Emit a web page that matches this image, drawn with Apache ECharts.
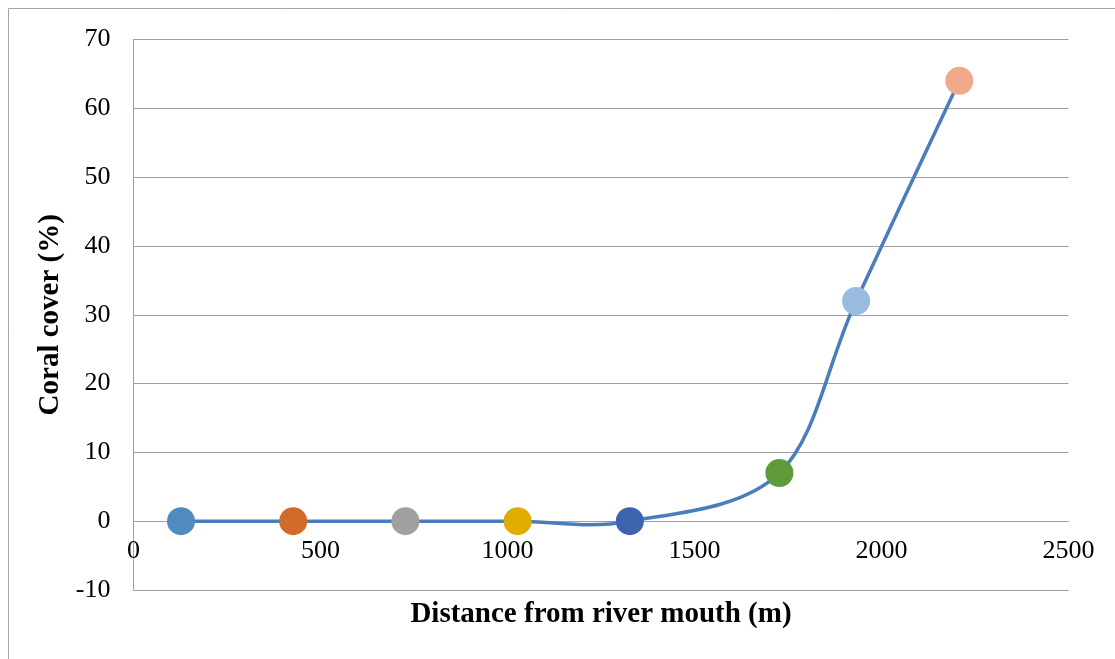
<!DOCTYPE html>
<html>
<head>
<meta charset="utf-8">
<script src="https://cdn.jsdelivr.net/npm/echarts@6/dist/echarts.min.js"></script>
<style>html,body{margin:0;padding:0;background:#fff}#c{width:1115px;height:659px}</style>
</head>
<body>
<div id="c"></div>
<script>
const distances = [127, 427, 727, 1027, 1327, 1727, 1932, 2208];
const coralCover = [0, 0, 0, 0, 0, 7, 32, 64];
const pointColors = ['#4F8BBF', '#D26B2A', '#A0A0A0', '#E2AB00', '#3E64AE', '#5F9A3B', '#9ABBE0', '#F2A98A'];
const xTicks = [0, 500, 1000, 1500, 2000, 2500];
const yTicks = [-10, 0, 10, 20, 30, 40, 50, 60, 70];
const xTitle = 'Distance from river mouth (m)';
const yTitle = 'Coral cover (%)';

const font = '"Liberation Serif", "Times New Roman", serif';
const chart = echarts.init(document.getElementById('c'), null, {renderer: 'canvas'});
const pairs = distances.map((d, i) => [d, coralCover[i]]);

// Excel-like smoothed curve (Catmull-Rom converted to Bezier) through the data, via the axes' coord()
function renderCurve(params, api) {
  if (params.dataIndex !== 0) return;
  const p = pairs.map(v => api.coord(v));
  const n = p.length;
  let d = 'M' + p[0][0] + ' ' + p[0][1];
  for (let i = 0; i < n - 1; i++) {
    const p0 = p[Math.max(i - 1, 0)], p1 = p[i], p2 = p[i + 1], p3 = p[Math.min(i + 2, n - 1)];
    const c1x = p1[0] + (p2[0] - p0[0]) / 6, c1y = p1[1] + (p2[1] - p0[1]) / 6;
    const c2x = p2[0] - (p3[0] - p1[0]) / 6, c2y = p2[1] - (p3[1] - p1[1]) / 6;
    d += ' C' + c1x + ' ' + c1y + ' ' + c2x + ' ' + c2y + ' ' + p2[0] + ' ' + p2[1];
  }
  return {type: 'path', shape: {pathData: d}, style: {fill: 'none', stroke: '#4A7EBB', lineWidth: 3.5, lineJoin: 'round'}};
}

chart.setOption({
  animation: false,
  backgroundColor: '#fff',
  graphic: [{
    type: 'rect', shape: {x: 8.5, y: 8.5, width: 1200, height: 800},
    style: {fill: 'none', stroke: '#a6a6a6', lineWidth: 1}, silent: true
  }],
  grid: {left: 133.5, right: 46.5, top: 39.5, bottom: 69, containLabel: false, outerBoundsMode: 'none'},
  xAxis: {
    type: 'value', min: xTicks[0], max: xTicks[xTicks.length - 1], interval: xTicks[1] - xTicks[0],
    position: 'bottom', offset: -68.8,
    name: xTitle, nameLocation: 'middle', nameGap: 79,
    nameTextStyle: {fontFamily: font, fontWeight: 'bold', fontSize: 29, color: '#000'},
    axisLine: {show: true, onZero: false, lineStyle: {color: '#a0a0a0', width: 1}},
    axisTick: {show: false},
    axisLabel: {fontFamily: font, fontSize: 26, color: '#000', margin: 17, formatter: v => String(v)},
    splitLine: {show: false}
  },
  yAxis: {
    type: 'value', min: yTicks[0], max: yTicks[yTicks.length - 1], interval: yTicks[1] - yTicks[0],
    name: yTitle, nameLocation: 'middle', nameGap: 68,
    nameTextStyle: {fontFamily: font, fontWeight: 'bold', fontSize: 29, color: '#000'},
    axisLine: {show: true, onZero: false, lineStyle: {color: '#a0a0a0', width: 1}},
    axisTick: {show: false},
    axisLabel: {fontFamily: font, fontSize: 26, color: '#000', margin: 23, formatter: v => String(v)},
    splitLine: {show: true, lineStyle: {color: '#a0a0a0', width: 1}}
  },
  series: [{
    type: 'custom',
    renderItem: renderCurve,
    data: pairs,
    encode: {x: 0, y: 1},
    z: 2,
    silent: true
  }, {
    type: 'scatter',
    data: pairs.map((v, i) => ({value: v, itemStyle: {color: pointColors[i]}})),
    symbol: 'circle', symbolSize: 28,
    itemStyle: {borderWidth: 0, opacity: 1},
    z: 3
  }]
});
</script>
</body>
</html>
